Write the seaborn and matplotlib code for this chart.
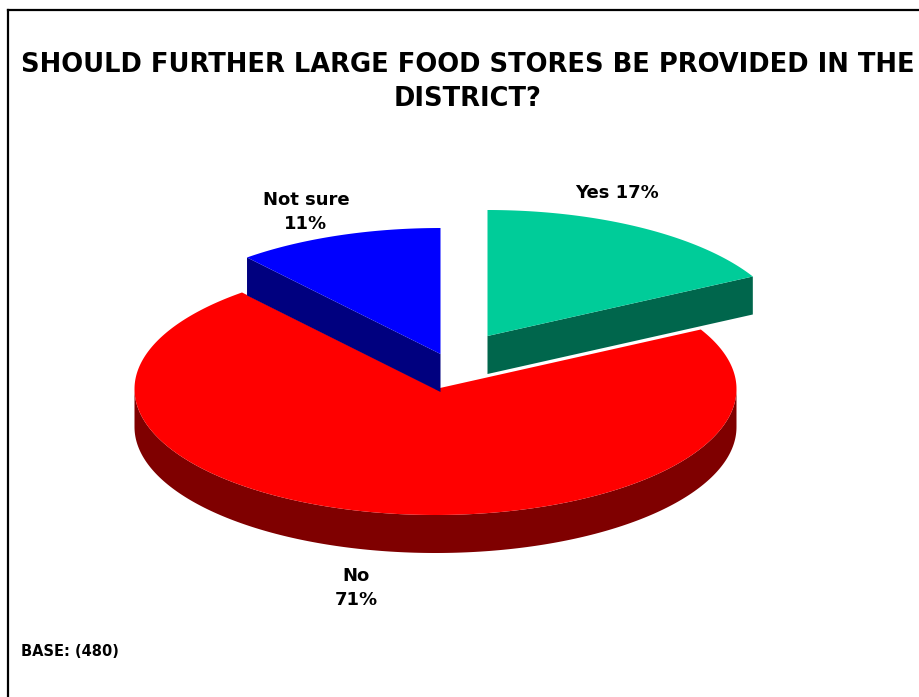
import numpy as np
import matplotlib
matplotlib.use("Agg")
import matplotlib.pyplot as plt
import seaborn as sns

# Survey answers
categories = ["Yes", "No", "Not sure"]
shares = [17, 71, 11]
base_n = 480
title = "SHOULD FURTHER LARGE FOOD STORES BE PROVIDED IN THE\nDISTRICT?"

# Slice colours (top face, side wall)
top_colors = ["#00CC99", "#FF0000", "#0000FF"]
side_colors = ["#00664C", "#7F0000", "#00007F"]

sns.set_theme(style="white")
plt.rcParams["font.family"] = ["DejaVu Sans"]

W, H = 919, 697
fig = plt.figure(figsize=(W / 100, H / 100), dpi=100)
ax = fig.add_axes([0, 0, 1, 1])
ax.set_xlim(0, W)
ax.set_ylim(H, 0)
ax.axis("off")

# Pie geometry in pixel units (tilted ellipse with a wall below)
cx, cy = 435.5, 389.0
rx, ry = 301.0, 126.0
depth = 38.0
# per-slice pull-out of the exploded pieces
offsets = [(52.0, -53.0), (0.0, 0.0), (5.0, -35.0)]


def pt(theta_deg, dx, dy, drop=0.0):
    t = np.radians(theta_deg)
    return cx + dx + rx * np.cos(t), cy + dy - ry * np.sin(t) + drop


fractions = np.array(shares, dtype=float) / np.sum(shares)
# slices run clockwise from twelve o'clock
start = 90.0
spans = []
for f in fractions:
    end = start - f * 360.0
    spans.append((end, start))  # counter-clockwise range [t1, t2]
    start = end

# draw order: the big slice first, then the exploded ones on top
order = [1, 2, 0]
for i in order:
    t1, t2 = spans[i]
    dx, dy = offsets[i]
    apex = (cx + dx, cy + dy)

    # outer wall: the part of the rim facing the viewer (sin(theta) < 0)
    segs = []
    for k in range(-1, 3):
        a0, a1 = 180 + 360 * k, 360 + 360 * k
        s, e = max(t1, a0), min(t2, a1)
        if e > s:
            segs.append((s, e))
    for s, e in segs:
        th = np.linspace(s, e, 200)
        top = [pt(t, dx, dy) for t in th]
        bot = [pt(t, dx, dy, depth) for t in th[::-1]]
        poly = np.array(top + bot)
        ax.fill(poly[:, 0], poly[:, 1], color=side_colors[i], lw=0)

    # radial walls whose outward normal points toward the viewer
    for t_edge, normal in ((t1, t1 - 90.0), (t2, t2 + 90.0)):
        if np.sin(np.radians(normal)) < -1e-6:
            p = pt(t_edge, dx, dy)
            poly = np.array([apex, p, (p[0], p[1] + depth),
                             (apex[0], apex[1] + depth)])
            ax.fill(poly[:, 0], poly[:, 1], color=side_colors[i], lw=0)

    # top face
    th = np.linspace(t1, t2, 300)
    face = np.array([apex] + [pt(t, dx, dy) for t in th])
    ax.fill(face[:, 0], face[:, 1], color=top_colors[i], lw=0)

# Slice labels
lab_kw = dict(fontsize=13, fontweight="bold", color="black",
              ha="center", va="center", linespacing=1.4)
ax.text(617, 193, f"{categories[0]} {shares[0]}%", **lab_kw)
ax.text(356, 588, f"{categories[1]}\n{shares[1]}%", **lab_kw)
ax.text(306, 212, f"{categories[2]}\n{shares[2]}%", **lab_kw)

# Title and base note
ax.text(468, 82, title, fontsize=18.5, fontweight="bold", color="black",
        ha="center", va="center", linespacing=1.4)
ax.text(21, 652, f"BASE: ({base_n})", fontsize=10.5, fontweight="bold",
        color="black", ha="left", va="center")

# Frame around the chart area
ax.plot([8, 8], [H + 5, 10], color="black", lw=1.6, solid_capstyle="projecting")
ax.plot([8, W + 5], [10, 10], color="black", lw=1.6, solid_capstyle="projecting")

fig.savefig("out.png", dpi=100, facecolor="white")
